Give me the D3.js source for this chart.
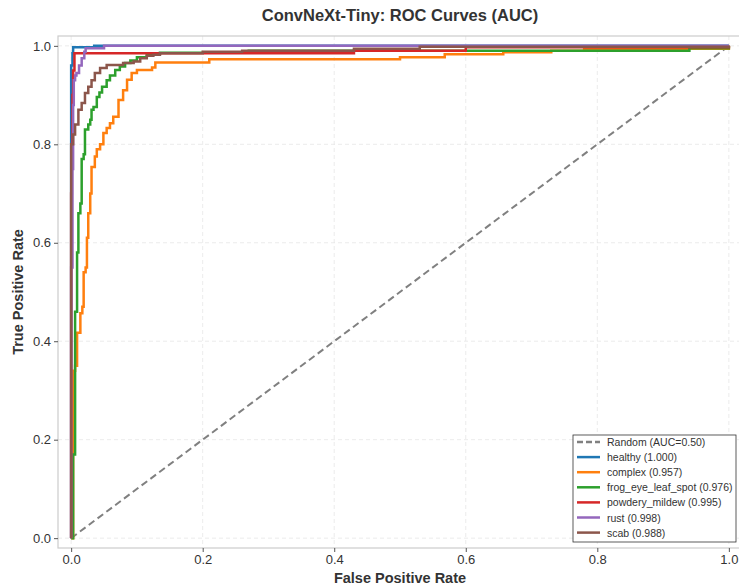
<!DOCTYPE html>
<html>
<head>
<meta charset="utf-8">
<script src="https://cdn.jsdelivr.net/npm/d3@7"></script>
<style>
	body { margin: 0; background: #fff; font-family: "Liberation Sans", Arial, sans-serif; }
	svg { display: block; }
	.tick text { fill: #333; font-size: 13px; }
</style>
</head>
<body>
<div id="chart"></div>
<script>
// ROC points [fpr, tpr]
var healthy = [[0,0],[0,0.96],[0.002,0.985],[0.003,0.997],[0.035,0.997],[0.035,1],[1,1]];
var complex = [[0,0],[0.003,0.18],[0.003,0.34],[0.006,0.35],[0.009,0.37],[0.009,0.417],[0.014,0.42],[0.014,0.457],[0.017,0.47],[0.019,0.54],[0.022,0.55],[0.024,0.61],[0.026,0.62],[0.026,0.66],[0.029,0.67],[0.029,0.7],[0.031,0.71],[0.031,0.754],[0.036,0.758],[0.036,0.775],[0.039,0.78],[0.039,0.79],[0.044,0.8],[0.049,0.823],[0.054,0.833],[0.059,0.843],[0.064,0.856],[0.072,0.87],[0.072,0.89],[0.079,0.895],[0.079,0.91],[0.085,0.915],[0.085,0.931],[0.092,0.935],[0.092,0.945],[0.1,0.951],[0.123,0.951],[0.123,0.956],[0.128,0.958],[0.128,0.966],[0.21,0.966],[0.21,0.973],[0.5,0.973],[0.5,0.977],[0.568,0.977],[0.568,0.983],[0.657,0.983],[0.657,0.987],[0.73,0.987],[0.73,0.99],[0.78,0.99],[0.78,0.994],[1,1]];
var frogEye = [[0,0],[0.003,0.03],[0.003,0.17],[0.006,0.17],[0.006,0.46],[0.009,0.46],[0.009,0.58],[0.011,0.58],[0.011,0.66],[0.014,0.66],[0.014,0.68],[0.016,0.7],[0.016,0.77],[0.019,0.77],[0.019,0.78],[0.021,0.78],[0.021,0.83],[0.026,0.84],[0.029,0.85],[0.031,0.87],[0.034,0.876],[0.039,0.896],[0.043,0.905],[0.047,0.917],[0.054,0.93],[0.059,0.94],[0.067,0.951],[0.074,0.958],[0.082,0.965],[0.09,0.97],[0.1,0.977],[0.115,0.984],[0.135,0.986],[0.27,0.987],[0.27,0.99],[0.94,0.99],[0.94,0.995],[1,1]];
var powdery = [[0,0],[0,0.7],[0.001,0.8],[0.002,0.9],[0.003,0.95],[0.005,0.985],[0.43,0.985],[0.43,0.99],[0.6,0.99],[0.6,0.997],[1,1]];
var rust = [[0,0],[0,0.55],[0.002,0.75],[0.003,0.88],[0.004,0.93],[0.006,0.94],[0.008,0.945],[0.012,0.96],[0.016,0.975],[0.02,0.988],[0.022,0.995],[0.05,0.997],[0.05,1],[1,1]];
var scab = [[0,0],[0,0.8],[0.003,0.82],[0.006,0.84],[0.011,0.87],[0.016,0.884],[0.021,0.904],[0.026,0.917],[0.031,0.93],[0.036,0.945],[0.044,0.955],[0.054,0.961],[0.067,0.961],[0.079,0.965],[0.095,0.968],[0.105,0.975],[0.115,0.98],[0.125,0.982],[0.135,0.985],[0.2,0.988],[0.26,0.99],[0.43,0.99],[0.43,0.994],[0.53,0.994],[0.53,0.998],[1,1]];

var classNames = ["healthy","complex","frog_eye_leaf_spot","powdery_mildew","rust","scab"];
var aucValues = [1.000, 0.957, 0.976, 0.995, 0.998, 0.988];
var curves = [healthy, complex, frogEye, powdery, rust, scab];
var colors = ["#1f77b4","#ff7f0e","#2ca02c","#d62728","#9467bd","#8c564b"];
var ticks = [0, 0.2, 0.4, 0.6, 0.8, 1.0];

var W = 739, H = 588;
var pLeft = 58, pRight = 742, pTop = 36, pBottom = 548;

var svg = d3.select("#chart").append("svg")
	.attr("width", W)
	.attr("height", H);

var x = d3.scaleLinear().domain([-0.02, 1.02]).range([pLeft, pRight]);
var y = d3.scaleLinear().domain([-0.02, 1.02]).range([pBottom, pTop]);

// grid
svg.append("g").selectAll("line")
	.data(ticks).enter().append("line")
	.attr("x1", function(d){ return x(d); })
	.attr("x2", function(d){ return x(d); })
	.attr("y1", pTop).attr("y2", pBottom)
	.attr("stroke", "#e6e6e6").attr("stroke-dasharray", "4,3").attr("stroke-width", 0.8);
svg.append("g").selectAll("line")
	.data(ticks).enter().append("line")
	.attr("y1", function(d){ return y(d); })
	.attr("y2", function(d){ return y(d); })
	.attr("x1", pLeft).attr("x2", pRight)
	.attr("stroke", "#e6e6e6").attr("stroke-dasharray", "4,3").attr("stroke-width", 0.8);

// frame
svg.append("rect")
	.attr("x", pLeft).attr("y", pTop)
	.attr("width", pRight - pLeft).attr("height", pBottom - pTop)
	.attr("fill", "none").attr("stroke", "#cccccc").attr("stroke-width", 1.2);

// axes
var xAxis = svg.append("g")
	.attr("transform", "translate(0," + pBottom + ")")
	.call(d3.axisBottom(x).tickValues(ticks).tickFormat(d3.format(".1f")).tickSize(4).tickPadding(3));
var yAxis = svg.append("g")
	.attr("transform", "translate(" + pLeft + ",0)")
	.call(d3.axisLeft(y).tickValues(ticks).tickFormat(d3.format(".1f")).tickSize(4).tickPadding(3));
[xAxis, yAxis].forEach(function(a){
	a.select(".domain").remove();
	a.selectAll(".tick line").attr("stroke", "#555");
	a.selectAll(".tick text").attr("font-family", "Liberation Sans, Arial, sans-serif");
});

// random line
svg.append("line")
	.attr("x1", x(0)).attr("y1", y(0))
	.attr("x2", x(1)).attr("y2", y(1))
	.attr("stroke", "#808080").attr("stroke-width", 2)
	.attr("stroke-dasharray", "7,4");

var line = d3.line()
	.curve(d3.curveStepAfter)
	.x(function(d){ return x(d[0]); })
	.y(function(d){ return y(d[1]); });

svg.append("g").selectAll("path")
	.data(curves).enter().append("path")
	.attr("d", line)
	.attr("fill", "none")
	.attr("stroke", function(d,i){ return colors[i]; })
	.attr("stroke-width", 2.5)
	.attr("stroke-linejoin", "miter");

// title and labels
svg.append("text")
	.attr("x", 400).attr("y", 21)
	.attr("text-anchor", "middle")
	.attr("font-size", "16.5px").attr("font-weight", "bold").attr("fill", "#333")
	.text("ConvNeXt-Tiny: ROC Curves (AUC)");
svg.append("text")
	.attr("x", 400).attr("y", 583)
	.attr("text-anchor", "middle")
	.attr("font-size", "14.5px").attr("font-weight", "bold").attr("fill", "#333")
	.text("False Positive Rate");
svg.append("text")
	.attr("transform", "translate(23," + ((pTop + pBottom) / 2) + ") rotate(-90)")
	.attr("text-anchor", "middle")
	.attr("font-size", "14.5px").attr("font-weight", "bold").attr("fill", "#333")
	.text("True Positive Rate");

// legend
var legendLabels = ["Random (AUC=0.50)"].concat(classNames.map(function(n,i){
	return n + " (" + aucValues[i].toFixed(3) + ")";
}));
var lg = svg.append("g").attr("transform", "translate(573,435)");
lg.append("rect")
	.attr("width", 163).attr("height", 107)
	.attr("fill", "#fff").attr("stroke", "#333").attr("stroke-width", 0.8);
var item = lg.selectAll("g")
	.data(legendLabels).enter().append("g")
	.attr("transform", function(d,i){ return "translate(0," + (7 + i * 15.1) + ")"; });
item.append("line")
	.attr("x1", 4).attr("x2", 27)
	.attr("stroke", function(d,i){ return i == 0 ? "#808080" : colors[i-1]; })
	.attr("stroke-width", 2.5)
	.attr("stroke-dasharray", function(d,i){ return i == 0 ? "6,3" : null; });
item.append("text")
	.attr("x", 34).attr("y", 4)
	.attr("font-size", "10.5px").attr("fill", "#333")
	.text(function(d){ return d; });
</script>
</body>
</html>
